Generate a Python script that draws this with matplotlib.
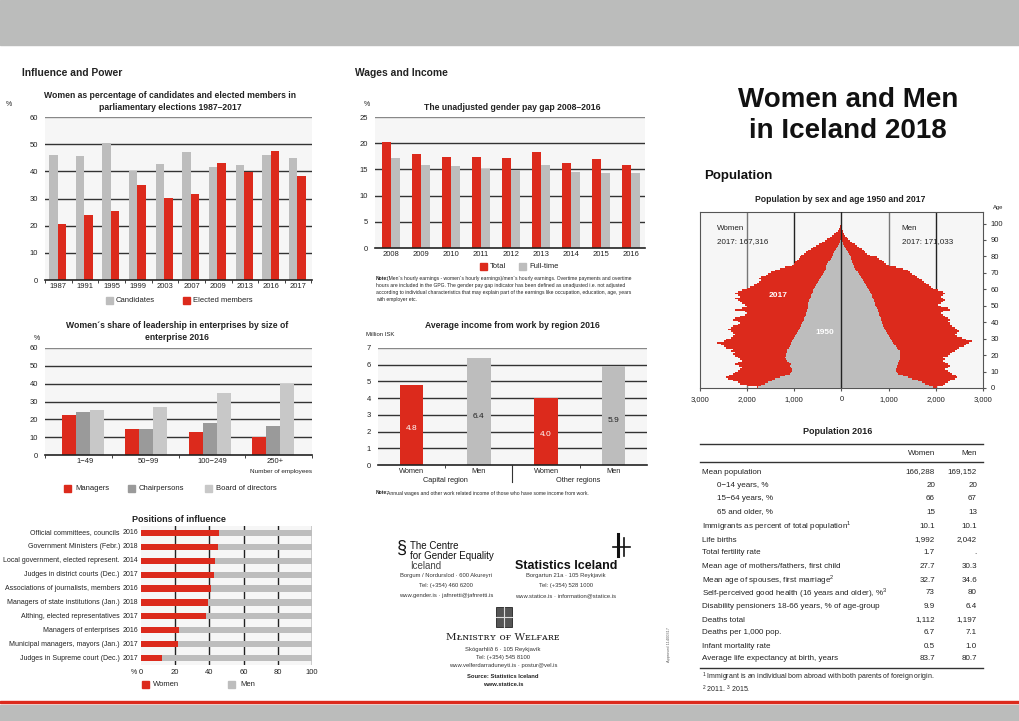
import numpy as np
import matplotlib.pyplot as plt
from matplotlib.patches import Rectangle

W, H = 1020, 721
RED = '#dc2a1c'
GRAY = '#bdbdbd'
DGRAY = '#9a9a9a'
BG = '#f6f6f6'
TXT = '#222222'

# --- data: parliamentary elections
elec_years = ['1987', '1991', '1995', '1999', '2003', '2007', '2009', '2013', '2016', '2017']
candidates = [46.0, 45.5, 50.5, 40.0, 42.7, 47.2, 41.5, 42.2, 46.0, 44.8]
elected = [20.6, 23.8, 25.4, 34.9, 30.2, 31.7, 42.9, 39.7, 47.6, 38.1]

# --- data: gender pay gap
gap_years = ['2008', '2009', '2010', '2011', '2012', '2013', '2014', '2015', '2016']
gap_total = [20.3, 17.9, 17.4, 17.4, 17.1, 18.3, 16.3, 16.9, 15.9]
gap_fulltime = [17.1, 15.8, 15.6, 15.1, 14.8, 15.9, 14.5, 14.3, 14.3]

# --- data: leadership by enterprise size
ent_sizes = ['1\u221249', '50\u221299', '100\u2212249', '250+']
managers = [22.5, 14.5, 13.0, 10.0]
chairpersons = [24.0, 14.5, 18.0, 16.5]
board = [25.5, 27.0, 35.0, 40.0]

# --- data: average income by region
inc_labels = ['Women', 'Men', 'Women', 'Men']
inc_values = [4.8, 6.4, 4.0, 5.9]
inc_shown = ['4.8', '6.4', '4.0', '5.9']

# --- data: positions of influence
pos_labels = ['Official committees, councils', 'Government Ministers (Febr.)',
              'Local government, elected represent.', 'Judges in district courts (Dec.)',
              'Associations of journalists, members', 'Managers of state institutions (Jan.)',
              'Althing, elected representatives', 'Managers of enterprises',
              'Municipal managers, mayors (Jan.)', 'Judges in Supreme court (Dec.)']
pos_years = ['2016', '2018', '2014', '2017', '2016', '2018', '2017', '2016', '2017', '2017']
pos_women = [45.5, 45.0, 43.5, 42.5, 41.0, 39.0, 38.0, 22.0, 21.5, 12.5]

# --- data: population pyramid, ages 0..104
women_2017 = [1800, 2000, 2150, 2200, 2300, 2400, 2450, 2380, 2300, 2250,
              2200, 2150, 2100, 2180, 2250, 2200, 2100, 2150, 2200, 2250,
              2300, 2250, 2350, 2300, 2450, 2500, 2550, 2630, 2500, 2450,
              2350, 2300, 2250, 2300, 2350, 2400, 2350, 2300, 2200, 2150,
              2200, 2300, 2250, 2150, 2050, 2000, 2050, 2250, 2100, 2000,
              2050, 2100, 2150, 2200, 2250, 2150, 2200, 2250, 2200, 2100,
              2000, 1950, 1850, 1800, 1750, 1700, 1750, 1700, 1600, 1550,
              1500, 1400, 1300, 1200, 1050, 1000, 980, 950, 900, 880,
              850, 800, 750, 700, 650, 600, 550, 480, 420, 350,
              300, 250, 200, 150, 110, 80, 55, 35, 25, 15,
              10, 6, 4, 2, 1]
women_1950 = [1780, 1700, 1620, 1550, 1480, 1400, 1300, 1200, 1100, 1080,
              1060, 1050, 1070, 1100, 1080, 1120, 1150, 1180, 1200, 1180,
              1170, 1160, 1150, 1150, 1120, 1100, 1080, 1070, 1050, 1030,
              1000, 980, 960, 950, 920, 900, 880, 860, 850, 830,
              820, 800, 790, 780, 760, 750, 740, 730, 720, 710,
              700, 700, 690, 680, 670, 650, 640, 630, 610, 600,
              580, 560, 540, 520, 500, 480, 460, 440, 420, 400,
              370, 340, 320, 320, 330, 300, 280, 250, 230, 210,
              190, 170, 150, 130, 110, 90, 70, 55, 40, 30,
              20, 14, 10, 7, 5, 3, 2, 1, 1, 0,
              0, 0, 0, 0, 0]
men_2017 = [2020, 2150, 2200, 2250, 2300, 2400, 2450, 2420, 2350, 2300,
            2250, 2200, 2250, 2300, 2250, 2200, 2150, 2200, 2150, 2250,
            2300, 2350, 2400, 2450, 2500, 2600, 2650, 2700, 2760, 2650,
            2550, 2450, 2400, 2450, 2500, 2450, 2400, 2350, 2300, 2300,
            2250, 2300, 2250, 2200, 2150, 2100, 2150, 2300, 2250, 2100,
            2050, 2100, 2150, 2200, 2150, 2100, 2150, 2200, 2150, 2050,
            1950, 1900, 1850, 1800, 1750, 1700, 1650, 1600, 1550, 1500,
            1450, 1400, 1300, 1150, 1000, 950, 900, 850, 800, 750,
            600, 550, 500, 470, 430, 380, 330, 280, 220, 180,
            140, 110, 80, 60, 40, 30, 20, 12, 8, 5,
            3, 2, 1, 1, 0]
men_1950 = [1950, 1850, 1780, 1700, 1620, 1500, 1400, 1300, 1200, 1180,
            1160, 1150, 1170, 1180, 1200, 1200, 1220, 1240, 1250, 1230,
            1240, 1250, 1230, 1200, 1180, 1150, 1120, 1100, 1080, 1050,
            1020, 1000, 980, 960, 940, 920, 900, 880, 870, 860,
            850, 840, 830, 820, 800, 790, 780, 770, 750, 730,
            720, 700, 690, 680, 670, 650, 640, 620, 600, 580,
            560, 540, 520, 500, 480, 460, 430, 410, 390, 370,
            340, 310, 290, 270, 260, 240, 230, 220, 210, 200,
            170, 150, 130, 110, 90, 70, 55, 40, 30, 20,
            14, 10, 7, 5, 3, 2, 1, 1, 0, 0,
            0, 0, 0, 0, 0]

# --- data: population table 2016
tab_rows = ['Mean population', '0\u221214 years, %', '15\u221264 years, %', '65 and older, %',
            'Immigrants as percent of total population$^1$', 'Life births', 'Total fertility rate',
            'Mean age of mothers/fathers, first child', 'Mean age of spouses, first marriage$^2$',
            'Self-perceived good health (16 years and older), %$^3$',
            'Disability pensioners 18-66 years, % of age-group', 'Deaths total',
            'Deaths per 1,000 pop.', 'Infant mortality rate', 'Average life expectancy at birth, years']
tab_women = ['166,288', '20', '66', '15', '10.1', '1,992', '1.7', '27.7', '32.7', '73',
             '9.9', '1,112', '6.7', '0.5', '83.7']
tab_men = ['169,152', '20', '67', '13', '10.1', '2,042', '.', '30.3', '34.6', '80',
           '6.4', '1,197', '7.1', '1.0', '80.7']

plt.rcParams['font.family'] = ['Liberation Sans', 'DejaVu Sans']
plt.rcParams['mathtext.fontset'] = 'custom'
plt.rcParams['mathtext.rm'] = 'Liberation Sans'

fig = plt.figure(figsize=(W / 100, H / 100), dpi=100)
fig.patch.set_facecolor('white')


def box(x0, y0, x1, y1):
    return fig.add_axes([x0 / W, 1 - y1 / H, (x1 - x0) / W, (y1 - y0) / H])


def txt(x, y, s, **kw):
    kw.setdefault('color', TXT)
    kw.setdefault('va', 'center')
    return fig.text(x / W, 1 - y / H, s, **kw)


def square(x, y, c, s=7):
    fig.add_artist(Rectangle((x / W, 1 - (y + s / 2) / H), s / W, s / H,
                             color=c, transform=fig.transFigure))


def style(ax, yt):
    ax.set_facecolor(BG)
    ax.set_yticks(yt)
    for v in yt[1:]:
        c = '#888888' if v == yt[-1] else '#333333'
        ax.axhline(v, color=c, lw=1.0, zorder=1)
    for s in ['left', 'right', 'top']:
        ax.spines[s].set_visible(False)
    ax.spines['bottom'].set_color('#222222')
    ax.spines['bottom'].set_linewidth(1.2)
    ax.tick_params(axis='y', length=0, labelsize=5.5, labelcolor=TXT, pad=5)
    ax.tick_params(axis='x', length=0, labelsize=5.5, labelcolor=TXT, pad=2)


# bands
fig.add_artist(Rectangle((0, 1 - 45 / H), 1, 45 / H, color='#bbbcbb', transform=fig.transFigure))
fig.add_artist(Rectangle((0, 0), 1, 16 / H, color='#bbbcbb', transform=fig.transFigure))
fig.add_artist(Rectangle((0, 1 - 703 / H), 1, 1.6 / H, color=RED, transform=fig.transFigure))

txt(22, 73, 'Influence and Power', fontsize=7.4, fontweight='bold')
txt(355, 73, 'Wages and Income', fontsize=7.4, fontweight='bold')
txt(848, 100, 'Women and Men', fontsize=20, fontweight='bold', ha='center', color='#111111')
txt(848, 131, 'in Iceland 2018', fontsize=20, fontweight='bold', ha='center', color='#111111')
txt(704, 176, 'Population', fontsize=9.5, fontweight='bold', color='#111111')

# --- chart 1: elections
ax = box(45, 117, 312, 280)
x = np.arange(len(elec_years))
ax.bar(x - 0.16, candidates, 0.32, color=GRAY, zorder=2)
ax.bar(x + 0.16, elected, 0.32, color=RED, zorder=2)
ax.set_xlim(-0.45, 9.55)
ax.set_ylim(0, 60)
style(ax, [0, 10, 20, 30, 40, 50, 60])
ax.set_xticks(x + 0.03, elec_years)
ax.set_xticks(np.arange(len(elec_years) + 1) - 0.47, minor=True)
ax.tick_params(axis='x', which='minor', length=2, color='#222')
txt(170, 95, 'Women as percentage of candidates and elected members in', fontsize=6.2,
    fontweight='bold', ha='center')
txt(170, 107, 'parliamentary elections 1987\u20132017', fontsize=6.2, fontweight='bold', ha='center')
txt(6, 105, '%', fontsize=5)
square(106, 300, GRAY)
txt(116, 300, 'Candidates', fontsize=5.5)
square(183, 300, RED)
txt(193, 300, 'Elected members', fontsize=5.5)

# --- chart 2: pay gap
ax = box(375, 117, 645, 248)
x = np.arange(len(gap_years))
ax.bar(x - 0.15, gap_total, 0.3, color=RED, zorder=2)
ax.bar(x + 0.15, gap_fulltime, 0.3, color=GRAY, zorder=2)
ax.set_xlim(-0.53, 8.47)
ax.set_ylim(0, 25)
style(ax, [0, 5, 10, 15, 20, 25])
ax.set_xticks(x, gap_years)
txt(512, 107, 'The unadjusted gender pay gap 2008\u20132016', fontsize=6.2, fontweight='bold', ha='center')
txt(364, 105, '%', fontsize=5)
square(480, 266, RED)
txt(490, 266, 'Total', fontsize=5.5)
square(519, 266, GRAY)
txt(529, 266, 'Full-time', fontsize=5.5)
note_lines = ["(Men\u00b4s hourly earnings - women\u00b4s hourly earnings)/men\u00b4s hourly earnings. Overtime payments and overtime",
              "hours are included in the GPG. The gender pay gap indicator has been defined as unadjusted i.e. not adjusted",
              "according to individual characteristics that may explain part of the earnings like occupation, education, age, years",
              "with employer etc."]
txt(376, 278, 'Note:', fontsize=3.6, fontweight='bold')
txt(387, 278, note_lines[0], fontsize=3.6)
for i, line in enumerate(note_lines[1:]):
    txt(376, 285 + i * 7, line, fontsize=3.6)

# --- chart 3: leadership
ax = box(45, 348, 312, 455)
x = np.arange(len(ent_sizes)) * 0.95 + 0.57
ax.bar(x - 0.21, managers, 0.21, color=RED, zorder=2)
ax.bar(x, chairpersons, 0.21, color=DGRAY, zorder=2)
ax.bar(x + 0.21, board, 0.21, color='#c8c8c8', zorder=2)
ax.set_xlim(0, 4)
ax.set_ylim(0, 60)
style(ax, [0, 10, 20, 30, 40, 50, 60])
ax.set_xticks(x + 0.03, ent_sizes)
ax.set_xticks([0, 1, 2, 3, 4], minor=True)
ax.tick_params(axis='x', which='minor', length=2, color='#222')
txt(177, 325, 'Women\u00b4s share of leadership in enterprises by size of', fontsize=6.2,
    fontweight='bold', ha='center')
txt(177, 337, 'enterprise 2016', fontsize=6.2, fontweight='bold', ha='center')
txt(34, 338, '%', fontsize=5)
txt(312, 472, 'Number of employees', fontsize=4.6, ha='right')
square(64, 488, RED)
txt(75, 488, 'Managers', fontsize=5.5)
square(128, 488, DGRAY)
txt(139, 488, 'Chairpersons', fontsize=5.5)
square(205, 488, '#c8c8c8')
txt(216, 488, 'Board of directors', fontsize=5.5)

# --- chart 4: average income
ax = box(378, 348, 647, 465)
x = np.arange(len(inc_values)) + 0.5
ax.bar(x, inc_values, 0.35, color=[RED, GRAY, RED, GRAY], zorder=2)
ax.set_xlim(0, 4)
ax.set_ylim(0, 7)
style(ax, [0, 1, 2, 3, 4, 5, 6, 7])
ax.set_xticks(x, inc_labels)
ax.set_xticks([1, 3], minor=True)
ax.tick_params(axis='x', which='minor', length=2, color='#222')
ax.tick_params(axis='x', labelsize=5.3)
for xi, v, s, c in zip(x, inc_values, inc_shown, ['white', TXT, 'white', TXT]):
    ax.text(xi, v * 0.45, s, ha='center', va='center', fontsize=6, color=c, zorder=3)
fig.add_artist(plt.Line2D([512 / W, 512 / W], [1 - 465 / H, 1 - 482 / H], color='#333', lw=0.8))
txt(445, 481, 'Capital region', fontsize=5.3, ha='center')
txt(578, 481, 'Other regions', fontsize=5.3, ha='center')
txt(512, 325, 'Average income from work by region 2016', fontsize=6.2, fontweight='bold', ha='center')
txt(366, 334, 'Million ISK', fontsize=4.3)
txt(376, 493, 'Note:', fontsize=3.6, fontweight='bold')
txt(387, 493, 'Annual wages and other work related income of those who have some income from work.',
    fontsize=3.6)

# --- chart 5: positions of influence
ax = box(141, 526, 312, 665)
y = np.arange(len(pos_labels))
men = [100 - v for v in pos_women]
ax.barh(y, pos_women, 0.45, color=RED, zorder=2)
ax.barh(y, men, 0.45, left=pos_women, color=GRAY, zorder=2)
ax.set_ylim(9.5, -0.5)
ax.set_xlim(0, 100)
ax.set_facecolor(BG)
for v in [20, 40, 60, 80, 100]:
    ax.axvline(v, color='#222', lw=1.0, zorder=1)
for s in ['left', 'right', 'top', 'bottom']:
    ax.spines[s].set_visible(False)
ax.set_yticks([])
ax.set_xticks([0, 20, 40, 60, 80, 100])
ax.tick_params(axis='x', length=0, labelsize=5.5, labelcolor=TXT, pad=3)
for yi, lab, yr in zip(y, pos_labels, pos_years):
    ax.text(-12.3, yi, lab, ha='right', va='center', fontsize=5.0, color=TXT)
    ax.text(-10.5, yi, yr, ha='left', va='center', fontsize=5.0, color=TXT)
txt(179, 519, 'Positions of influence', fontsize=6.5, fontweight='bold', ha='center')
txt(131, 672, '%', fontsize=5)
square(142, 684, RED)
txt(153, 684, 'Women', fontsize=5.5)
square(228, 684, GRAY)
txt(240, 684, 'Men', fontsize=5.5)

# --- logos / addresses
txt(402, 548, '\u00a7', fontsize=13, color='#111', ha='center')
txt(410, 546, 'The Centre', fontsize=7, color='#111')
txt(410, 556, 'for Gender Equality', fontsize=7, color='#111')
txt(410, 566, 'Iceland', fontsize=7, color='#444')
for i, s in enumerate(['Borgum / Nordurslod \u00b7 600 Akureyri', 'Tel: (+354) 460 6200',
                       'www.gender.is \u00b7 jafnretti@jafnretti.is']):
    txt(446, 576 + i * 10, s, fontsize=4.2, ha='center', color='#333')
txt(566, 566, 'Statistics Iceland', fontsize=9, fontweight='bold', ha='center', color='#111')
for i, s in enumerate(['Borgartun 21a \u00b7 105 Reykjavik', 'Tel: (+354) 528 1000',
                       'www.statice.is \u00b7 information@statice.is']):
    txt(566, 576 + i * 10, s, fontsize=4.2, ha='center', color='#333')
fig.add_artist(plt.Line2D([618 / W, 618 / W], [1 - 534 / H, 1 - 556 / H], color='#111', lw=2.2))
fig.add_artist(plt.Line2D([624 / W, 624 / W], [1 - 538 / H, 1 - 556 / H], color='#111', lw=1.2))
fig.add_artist(plt.Line2D([613 / W, 630 / W], [1 - 547 / H, 1 - 547 / H], color='#111', lw=1.2))
fig.add_artist(Rectangle((496 / W, 1 - 627 / H), 16 / W, 20 / H, facecolor='#555', edgecolor='#222',
                         lw=0.6, transform=fig.transFigure))
fig.add_artist(plt.Line2D([504 / W, 504 / W], [1 - 607 / H, 1 - 627 / H], color='#ddd', lw=0.8))
fig.add_artist(plt.Line2D([496 / W, 512 / W], [1 - 617 / H, 1 - 617 / H], color='#ddd', lw=0.8))
txt(503, 637, 'M\u1d0cɴɪsᴛʀʏ ᴏғ Wᴇʟғᴀʀᴇ', fontsize=7.5, ha='center', color='#222',
    family=['DejaVu Serif', 'DejaVu Sans'])
for i, s in enumerate(['Sk\u00f3garhl\u00ed\u00f0 6 \u00b7 105 Reykjav\u00edk', 'Tel: (+354) 545 8100',
                       'www.velferdarraduneyti.is \u00b7 postur@vel.is']):
    txt(503, 649 + i * 8.5, s, fontsize=4.2, ha='center', color='#333')
txt(503, 676, 'Source: Statistics Iceland', fontsize=4.2, fontweight='bold', ha='center')
txt(503, 684, 'www.statice.is', fontsize=4.2, fontweight='bold', ha='center')
txt(669, 645, 'Approved 11400317', fontsize=2.8, rotation=90, ha='center', color='#666')

# --- chart 6: population pyramid
ax = box(700, 212, 983, 388)
ages = np.arange(len(women_2017)) + 0.5
ax.barh(ages, [-v for v in women_2017], 1.0, color=RED, lw=0, zorder=2)
ax.barh(ages, men_2017, 1.0, color=RED, lw=0, zorder=2)
ax.barh(ages, [-v for v in women_1950], 1.0, color=GRAY, lw=0, zorder=3)
ax.barh(ages, men_1950, 1.0, color=GRAY, lw=0, zorder=3)
ax.set_xlim(-3000, 3000)
ax.set_ylim(0, 107)
ax.set_facecolor(BG)
for v, c in zip([-2000, -1000, 0, 1000, 2000], ['#777', '#222', '#222', '#777', '#222']):
    ax.axvline(v, color=c, lw=1.0, zorder=1 if v else 4)
for s in ax.spines.values():
    s.set_color('#555')
ax.yaxis.tick_right()
ax.set_yticks(range(0, 101, 10))
ax.set_xticks([-3000, -2000, -1000, 0, 1000, 2000, 3000],
              ['3,000', '2,000', '1,000', '0', '1,000', '2,000', '3,000'])
ax.tick_params(axis='both', length=2, labelsize=5.5, labelcolor=TXT, color='#555')
ax.text(-2650, 97, 'Women', fontsize=5.8, color=TXT, va='center')
ax.text(-2650, 89, '2017: 167,316', fontsize=5.8, color=TXT, va='center', zorder=5)
ax.text(1280, 97, 'Men', fontsize=5.8, color=TXT, va='center')
ax.text(1280, 89, '2017: 171,033', fontsize=5.8, color=TXT, va='center', zorder=5)
ax.text(-1350, 56, '2017', fontsize=6, color='white', fontweight='bold', ha='center', va='center', zorder=5)
ax.text(-350, 34, '1950', fontsize=6, color='white', fontweight='bold', ha='center', va='center', zorder=5)
txt(840, 200, 'Population by sex and age 1950 and 2017', fontsize=6.2, fontweight='bold', ha='center')
txt(993, 207, 'Age', fontsize=4.2)

# --- population table
txt(838, 432, 'Population 2016', fontsize=6.5, fontweight='bold', ha='center')
for yy, lw in [(444, 1.0), (462, 1.0), (668, 1.0)]:
    fig.add_artist(plt.Line2D([700 / W, 983 / W], [1 - yy / H, 1 - yy / H], color='#333', lw=lw))
txt(935, 453, 'Women', fontsize=5.8, ha='right')
txt(977, 453, 'Men', fontsize=5.8, ha='right')
row_y = [472, 485.5, 499, 512, 526, 540, 553, 567, 580, 593, 607, 620, 633, 646, 659]
for yy, lab, wv, mv in zip(row_y, tab_rows, tab_women, tab_men):
    indent = 17 if lab[0].isdigit() else 2
    txt(700 + indent, yy, lab, fontsize=5.8)
    txt(935, yy, wv, fontsize=5.8, ha='right')
    txt(977, yy, mv, fontsize=5.8, ha='right')
txt(702, 677, '$^1$ Immigrant is an individual born abroad with both parents of foreign origin.', fontsize=5)
txt(702, 689, '$^2$ 2011. $^3$ 2015.', fontsize=5)

fig.savefig('out.png', dpi=100)
